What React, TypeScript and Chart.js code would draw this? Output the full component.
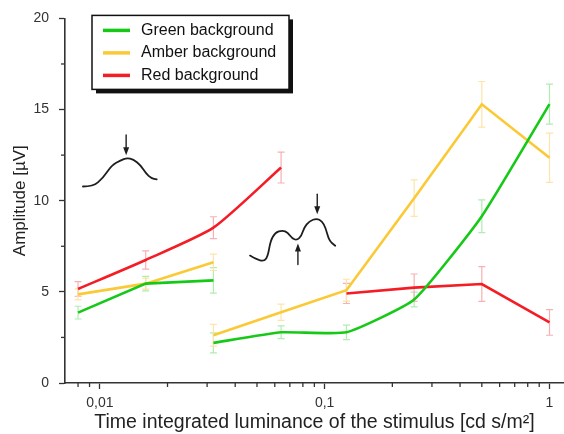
import React, { useEffect, useRef } from 'react';
import { Chart, registerables } from 'chart.js';

Chart.register(...registerables);

// ---- Data ----
const lumLow = [0.008, 0.016, 0.032];
const lumLowRed = [0.008, 0.016, 0.032, 0.064];
const lumHigh = [0.032, 0.064, 0.125, 0.25, 0.5, 1];
const lumHighRed = [0.125, 0.25, 0.5, 1];

const greenLow = [3.86, 5.45, 5.63];
const greenLowErr = [0.35, 0.4, 0.7];
const greenHigh = [2.2, 2.78, 2.78, 4.58, 9.15, 15.3];
const greenHighErr = [0.55, 0.35, 0.4, 0.4, 0.9, 1.1];

const amberLow = [4.86, 5.45, 6.62];
const amberLowErr = [0.3, 0.3, 0.45];
const amberHigh = [2.62, 3.88, 5.09, 10.14, 15.29, 12.36];
const amberHighErr = [0.6, 0.45, 0.6, 1.0, 1.25, 1.35];

const redLow = [5.16, 6.75, 8.52, 11.82];
const redLowErr = [0.4, 0.5, 0.6, 0.85];
const redHigh = [4.91, 5.23, 5.43, 3.32];
const redHighErr = [0.55, 0.75, 0.95, 0.7];

const seriesNames = ['Green background', 'Amber background', 'Red background'];
const seriesColors = ['#17c917', '#fbc935', '#f41d25'];
const errorColors = ['#b0edb0', '#fde4aa', '#f7b0b3'];

const xTickValues = [
  0.008, 0.009, 0.01, 0.02, 0.03, 0.04, 0.05, 0.06, 0.07, 0.08, 0.09,
  0.1, 0.2, 0.3, 0.4, 0.5, 0.6, 0.7, 0.8, 0.9, 1,
];
const xLabelValues = [0.01, 0.1, 1];
const xLabelTexts = ['0,01', '0,1', '1'];
const yTickValues = [0, 2.5, 5, 7.5, 10, 12.5, 15, 17.5, 20];
const yLabelValues = [0, 5, 10, 15, 20];

// Inset waveform sketches (log10 luminance, amplitude)
const waveOneLog = [-2.075, -2.030, -1.987, -1.947, -1.907, -1.880, -1.851, -1.819, -1.795, -1.771, -1.747];
const waveOneAmp = [10.78, 10.78, 11.23, 11.95, 12.22, 12.35, 12.27, 11.95, 11.50, 11.23, 11.17];
const waveTwoLog = [-1.332, -1.300, -1.268, -1.252, -1.241, -1.220, -1.188, -1.164, -1.145, -1.124, -1.103, -1.092, -1.068, -1.036, -1.012, -0.996, -0.980, -0.953];
const waveTwoAmp = [6.99, 6.75, 6.68, 6.99, 7.80, 8.25, 8.38, 8.25, 7.94, 7.83, 8.07, 8.52, 8.88, 9.03, 8.88, 8.52, 7.80, 7.53];
// arrows: [log10 x, amp from, amp to]
const arrowLog = [-1.883, -1.033, -1.119];
const arrowFrom = [13.6, 10.35, 6.5];
const arrowTo = [12.5, 9.25, 7.65];

const FONT = '"Liberation Sans", Arial, Helvetica, sans-serif';
const AXIS = '#333333';

function pts(xs: number[], ys: number[]) {
  return xs.map((x, i) => ({ x, y: ys[i] }));
}

const errorBarPlugin = {
  id: 'errorBars',
  beforeDatasetsDraw(chart: any) {
    const ctx = chart.ctx;
    const y = chart.scales.y;
    chart.data.datasets.forEach((ds: any, i: number) => {
      const meta = chart.getDatasetMeta(i);
      if (!ds.err) return;
      ctx.save();
      ctx.strokeStyle = ds.errColor;
      ctx.lineWidth = 1.2;
      meta.data.forEach((el: any, j: number) => {
        const v = ds.data[j].y;
        const e = ds.err[j];
        const px = el.x;
        const t = y.getPixelForValue(v + e);
        const b = y.getPixelForValue(v - e);
        ctx.beginPath();
        ctx.moveTo(px, t);
        ctx.lineTo(px, b);
        ctx.moveTo(px - 3.5, t);
        ctx.lineTo(px + 3.5, t);
        ctx.moveTo(px - 3.5, b);
        ctx.lineTo(px + 3.5, b);
        ctx.stroke();
      });
      ctx.restore();
    });
  },
};

function drawSmooth(ctx: any, p: number[][]) {
  ctx.beginPath();
  ctx.moveTo(p[0][0], p[0][1]);
  for (let i = 1; i < p.length - 1; i++) {
    const mx = (p[i][0] + p[i + 1][0]) / 2;
    const my = (p[i][1] + p[i + 1][1]) / 2;
    ctx.quadraticCurveTo(p[i][0], p[i][1], mx, my);
  }
  const last = p[p.length - 1];
  ctx.lineTo(last[0], last[1]);
  ctx.stroke();
}

const decorPlugin = {
  id: 'decor',
  afterDatasetsDraw(chart: any) {
    const ctx = chart.ctx;
    const xs = chart.scales.x;
    const ys = chart.scales.y;
    const toP = (l: number, a: number) => [xs.getPixelForValue(Math.pow(10, l)), ys.getPixelForValue(a)];
    ctx.save();
    ctx.strokeStyle = '#1e1e1e';
    ctx.fillStyle = '#1e1e1e';
    ctx.lineWidth = 1.8;
    ctx.lineJoin = 'round';
    ctx.lineCap = 'round';
    drawSmooth(ctx, waveOneLog.map((l, i) => toP(l, waveOneAmp[i])));
    drawSmooth(ctx, waveTwoLog.map((l, i) => toP(l, waveTwoAmp[i])));
    ctx.lineWidth = 1.4;
    arrowLog.forEach((l, i) => {
      const [x0, y0] = toP(l, arrowFrom[i]);
      const [, y1] = toP(l, arrowTo[i]);
      const dir = y1 > y0 ? 1 : -1;
      ctx.beginPath();
      ctx.moveTo(x0, y0);
      ctx.lineTo(x0, y1 - dir * 6);
      ctx.stroke();
      ctx.beginPath();
      ctx.moveTo(x0, y1);
      ctx.lineTo(x0 - 3, y1 - dir * 8);
      ctx.lineTo(x0 + 3, y1 - dir * 8);
      ctx.closePath();
      ctx.fill();
    });
    ctx.restore();

    // minor tick marks
    ctx.save();
    ctx.strokeStyle = AXIS;
    ctx.lineWidth = 1.3;
    const bottom = chart.chartArea.bottom;
    const left = chart.chartArea.left;
    xs.ticks.forEach((t: any, i: number) => {
      if (xLabelValues.indexOf(t.value) >= 0) return;
      const px = xs.getPixelForTick(i);
      ctx.beginPath();
      ctx.moveTo(px, bottom);
      ctx.lineTo(px, bottom + 4);
      ctx.stroke();
    });
    ys.ticks.forEach((t: any, i: number) => {
      if (yLabelValues.indexOf(t.value) >= 0) return;
      const py = ys.getPixelForTick(i);
      ctx.beginPath();
      ctx.moveTo(left, py);
      ctx.lineTo(left - 4, py);
      ctx.stroke();
    });
    ctx.restore();

    // legend box
    const L = chart.chartArea.left + 27;
    const T = chart.chartArea.top - 3;
    const W = 197;
    const H = 74;
    ctx.save();
    ctx.fillStyle = '#111';
    ctx.fillRect(L + 4, T + 4, W, H);
    ctx.fillStyle = '#ffffff';
    ctx.fillRect(L, T, W, H);
    ctx.strokeStyle = '#111';
    ctx.lineWidth = 1.5;
    ctx.strokeRect(L, T, W, H);
    ctx.font = `16px ${FONT}`;
    ctx.textBaseline = 'middle';
    ctx.textAlign = 'left';
    seriesNames.forEach((name, i) => {
      const cy = T + 15 + i * 22.5;
      ctx.strokeStyle = seriesColors[i];
      ctx.lineWidth = 3.5;
      ctx.beginPath();
      ctx.moveTo(L + 11, cy);
      ctx.lineTo(L + 38, cy);
      ctx.stroke();
      ctx.fillStyle = '#111';
      ctx.fillText(name, L + 49, cy);
    });
    ctx.restore();
  },
};

export default function App() {
  const ref = useRef<HTMLCanvasElement | null>(null);
  useEffect(() => {
    document.body.style.margin = '0';
    if (!ref.current) return;
    const line = (x: number[], y: number[], err: number[], c: number, tension: number) => ({
      label: seriesNames[c],
      data: pts(x, y),
      err,
      errColor: errorColors[c],
      borderColor: seriesColors[c],
      backgroundColor: seriesColors[c],
      borderWidth: 2.6,
      pointRadius: 0,
      tension,
      fill: false,
    });
    const chart = new Chart(ref.current, {
      type: 'line',
      data: {
        datasets: [
          line(lumLow, greenLow, greenLowErr, 0, 0),
          line(lumHigh, greenHigh, greenHighErr, 0, 0.15),
          line(lumLowRed, redLow, redLowErr, 2, 0.2),
          line(lumHighRed, redHigh, redHighErr, 2, 0),
          line(lumLow, amberLow, amberLowErr, 1, 0),
          line(lumHigh, amberHigh, amberHighErr, 1, 0),
        ] as any,
      },
      options: {
        animation: false,
        responsive: false,
        layout: { padding: { top: 16, right: 0, left: 0, bottom: 0 } },
        plugins: { legend: { display: false }, tooltip: { enabled: false } },
        scales: {
          x: {
            type: 'logarithmic',
            min: 0.007,
            max: 1.16,
            afterBuildTicks: (s: any) => {
              s.ticks = xTickValues.map((v) => ({ value: v }));
            },
            afterFit: (s: any) => {
              s.height = 51;
            },
            ticks: {
              autoSkip: false,
              maxRotation: 0,
              padding: 6,
              color: AXIS,
              font: { family: FONT, size: 14 },
              callback: (v: any) => {
                const k = xLabelValues.indexOf(Number(v));
                return k >= 0 ? xLabelTexts[k] : '';
              },
            },
            grid: {
              drawOnChartArea: false,
              drawTicks: true,
              tickLength: 6,
              tickWidth: 1.3,
              tickColor: (c: any) => (c.tick && xLabelValues.indexOf(c.tick.value) >= 0 ? AXIS : 'rgba(0,0,0,0)'),
            },
            border: { color: AXIS, width: 1.6 },
            title: {
              display: true,
              text: 'Time integrated luminance of the stimulus [cd s/m²]',
              color: '#222',
              font: { family: FONT, size: 19.5 },
              padding: { top: 0, bottom: 0 },
            },
          },
          y: {
            type: 'linear',
            min: 0,
            max: 20,
            afterBuildTicks: (s: any) => {
              s.ticks = yTickValues.map((v) => ({ value: v }));
            },
            afterFit: (s: any) => {
              s.width = 65;
            },
            ticks: {
              padding: 10,
              color: AXIS,
              font: { family: FONT, size: 14 },
              callback: (v: any) => (yLabelValues.indexOf(Number(v)) >= 0 ? String(v) : ''),
            },
            grid: {
              drawOnChartArea: false,
              drawTicks: true,
              tickLength: 6,
              tickWidth: 1.3,
              tickColor: (c: any) => (c.tick && yLabelValues.indexOf(c.tick.value) >= 0 ? AXIS : 'rgba(0,0,0,0)'),
            },
            border: { color: AXIS, width: 1.6 },
            title: {
              display: true,
              text: 'Amplitude [µV]',
              color: '#222',
              font: { family: FONT, size: 17 },
              padding: { top: 10, bottom: 0 },
            },
          },
        },
      } as any,
      plugins: [errorBarPlugin, decorPlugin],
    });
    return () => chart.destroy();
  }, []);
  return (
    <div style={{ width: 564, height: 434 }}>
      <canvas ref={ref} width={564} height={434} />
    </div>
  );
}
